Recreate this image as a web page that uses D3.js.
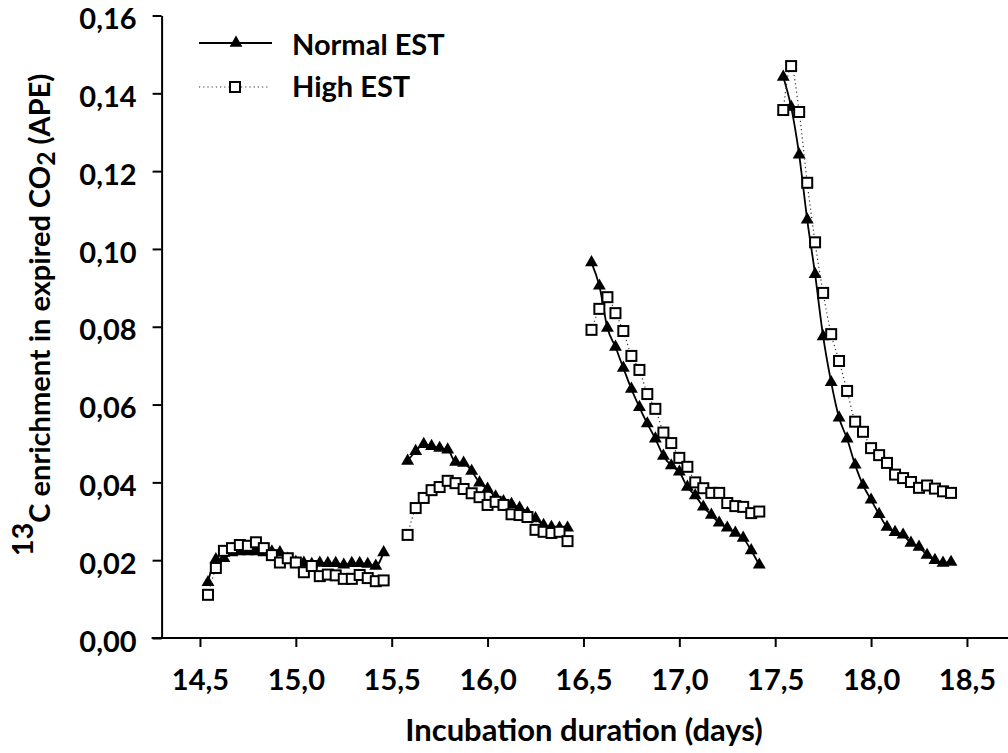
<!DOCTYPE html>
<html>
<head>
<meta charset="utf-8">
<script src="https://cdn.jsdelivr.net/npm/d3@7"></script>
<style>
  body { margin: 0; background: #fff; }
  svg { display: block; font-family: Lato, "Open Sans", sans-serif; font-weight: bold; }
</style>
</head>
<body>
<svg id="chart" width="1008" height="753"></svg>
<script>
// ---------- data ----------
const seriesNames = ["Normal EST", "High EST"];

const t1 = [14.542, 14.583, 14.625, 14.667, 14.708, 14.750, 14.792, 14.833, 14.875, 14.917, 14.958, 15.000, 15.042, 15.083, 15.125, 15.167, 15.208, 15.250, 15.292, 15.333, 15.375, 15.417, 15.458];
const t2 = [15.583, 15.625, 15.667, 15.708, 15.750, 15.792, 15.833, 15.875, 15.917, 15.958, 16.000, 16.042, 16.083, 16.125, 16.167, 16.208, 16.250, 16.292, 16.333, 16.375, 16.417];
const t3 = [16.542, 16.583, 16.625, 16.667, 16.708, 16.750, 16.792, 16.833, 16.875, 16.917, 16.958, 17.000, 17.042, 17.083, 17.125, 17.167, 17.208, 17.250, 17.292, 17.333, 17.375, 17.417];
const t4 = [17.542, 17.583, 17.625, 17.667, 17.708, 17.750, 17.792, 17.833, 17.875, 17.917, 17.958, 18.000, 18.042, 18.083, 18.125, 18.167, 18.208, 18.250, 18.292, 18.333, 18.375, 18.417];

const normal1 = [0.0143, 0.0202, 0.0205, 0.0220, 0.0222, 0.0222, 0.0222, 0.0220, 0.0222, 0.0220, 0.0203, 0.0195, 0.0193, 0.0190, 0.0193, 0.0192, 0.0192, 0.0188, 0.0192, 0.0192, 0.0190, 0.0185, 0.0220];
const normal2 = [0.0455, 0.0480, 0.0498, 0.0493, 0.0488, 0.0484, 0.0452, 0.0450, 0.0429, 0.0399, 0.0383, 0.0363, 0.0351, 0.0344, 0.0334, 0.0321, 0.0307, 0.0290, 0.0285, 0.0283, 0.0283];
const normal3 = [0.0965, 0.0905, 0.0797, 0.0748, 0.0694, 0.0640, 0.0593, 0.0551, 0.0512, 0.0468, 0.0443, 0.0427, 0.0388, 0.0366, 0.0337, 0.0316, 0.0296, 0.0283, 0.0270, 0.0257, 0.0225, 0.0188];
const normal4 = [0.1442, 0.1365, 0.1242, 0.1075, 0.0935, 0.0775, 0.0657, 0.0566, 0.0512, 0.0445, 0.0393, 0.0355, 0.0318, 0.0285, 0.0272, 0.0265, 0.0244, 0.0234, 0.0213, 0.0200, 0.0193, 0.0195];

const high1 = [0.0111, 0.0180, 0.0224, 0.0231, 0.0239, 0.0237, 0.0246, 0.0231, 0.0213, 0.0194, 0.0205, 0.0194, 0.0169, 0.0185, 0.0159, 0.0163, 0.0161, 0.0152, 0.0152, 0.0162, 0.0154, 0.0146, 0.0148];
const high2 = [0.0265, 0.0334, 0.0360, 0.0380, 0.0388, 0.0404, 0.0398, 0.0383, 0.0372, 0.0362, 0.0342, 0.0350, 0.0342, 0.0318, 0.0316, 0.0311, 0.0278, 0.0273, 0.0270, 0.0273, 0.0249];
const high3 = [0.0792, 0.0846, 0.0876, 0.0835, 0.0789, 0.0725, 0.0689, 0.0627, 0.0589, 0.0528, 0.0501, 0.0463, 0.0440, 0.0400, 0.0385, 0.0373, 0.0373, 0.0347, 0.0339, 0.0337, 0.0321, 0.0325];
const high4 = [0.1357, 0.1470, 0.1352, 0.1170, 0.1017, 0.0887, 0.0781, 0.0712, 0.0635, 0.0556, 0.0530, 0.0488, 0.0470, 0.0450, 0.0420, 0.0411, 0.0401, 0.0386, 0.0392, 0.0384, 0.0377, 0.0373];

const xTicks = [14.5, 15.0, 15.5, 16.0, 16.5, 17.0, 17.5, 18.0, 18.5];
const yTicks = [0, 0.02, 0.04, 0.06, 0.08, 0.10, 0.12, 0.14, 0.16];

const xTitle = "Incubation duration (days)";

// ---------- build ----------
const times = [t1, t2, t3, t4];
const normalSegs = [normal1, normal2, normal3, normal4].map((v, i) => v.map((y, j) => ({x: times[i][j], y})));
const highSegs = [high1, high2, high3, high4].map((v, i) => v.map((y, j) => ({x: times[i][j], y})));

const svg = d3.select("#chart");
const x = d3.scaleLinear().domain([14.3, 18.7]).range([161.6, 1005.3]);
const y = d3.scaleLinear().domain([0, 0.16]).range([638, 15.5]);

const loc = d3.formatLocale({decimal: ",", thousands: ".", grouping: [3], currency: ["", ""]});
const fx = loc.format(".1f");
const fy = loc.format(".2f");

const FS = 29;

// Y axis
const gy = svg.append("g").attr("transform", `translate(${x(14.3)},0)`)
  .call(d3.axisLeft(y).tickValues(yTicks).tickFormat(fy).tickSize(9).tickSizeOuter(0).tickPadding(16));
gy.select(".domain").attr("stroke", "#000").attr("stroke-width", 2);
gy.selectAll(".tick line").attr("stroke", "#000").attr("stroke-width", 2);
gy.selectAll(".tick text").attr("font-size", FS).attr("font-family", "Lato").attr("font-weight", "bold").attr("fill", "#000").attr("dy", "0.45em");

// X axis
const gx = svg.append("g").attr("transform", `translate(0,${y(0)})`)
  .call(d3.axisBottom(x).tickValues(xTicks).tickFormat(fx).tickSize(9).tickSizeOuter(0).tickPadding(22));
gx.select(".domain").remove();
gx.append("line").attr("x1", x(14.3) - 10).attr("x2", 1008).attr("y1", 0).attr("y2", 0).attr("stroke", "#000").attr("stroke-width", 2);
gx.selectAll(".tick line").attr("stroke", "#000").attr("stroke-width", 2);
gx.selectAll(".tick text").attr("font-size", FS).attr("font-family", "Lato").attr("font-weight", "bold").attr("fill", "#000");

// Axis titles
svg.append("text").attr("x", 584).attr("y", 741).attr("text-anchor", "middle")
  .attr("font-size", 31).attr("fill", "#000").text(xTitle);

const yt = svg.append("text").attr("transform", "translate(50,315) rotate(-90)")
  .attr("text-anchor", "middle").attr("font-size", FS).attr("fill", "#000");
yt.append("tspan").attr("dy", -17).text("13");
yt.append("tspan").attr("dy", 17).text("C enrichment in expired CO");
yt.append("tspan").attr("dy", 5).attr("font-size", FS * 0.85).text("2");
yt.append("tspan").attr("dy", -5).text(" (APE)");

// Lines
const line = d3.line().x(d => x(d.x)).y(d => y(d.y)).curve(d3.curveMonotoneX);
const tri = d3.symbol().type(d3.symbolTriangle).size(72);

const gN = svg.append("g");
normalSegs.forEach(seg => {
  gN.append("path").datum(seg).attr("d", line).attr("fill", "none").attr("stroke", "#000").attr("stroke-width", 1.8);
});
normalSegs.forEach(seg => {
  gN.selectAll(null).data(seg).enter().append("path")
    .attr("d", tri).attr("transform", d => `translate(${x(d.x)},${y(d.y)})`).attr("fill", "#000");
});

const gH = svg.append("g");
highSegs.forEach(seg => {
  gH.append("path").datum(seg).attr("d", line).attr("fill", "none").attr("stroke", "#333")
    .attr("stroke-width", 1.2).attr("stroke-dasharray", "1.2,3");
});
const SQ = 10;
highSegs.forEach(seg => {
  gH.selectAll(null).data(seg).enter().append("rect")
    .attr("x", d => x(d.x) - SQ / 2).attr("y", d => y(d.y) - SQ / 2)
    .attr("width", SQ).attr("height", SQ).attr("fill", "#fff").attr("stroke", "#000").attr("stroke-width", 2);
});

// Legend
const lg = svg.append("g");
lg.append("line").attr("x1", 199).attr("x2", 272).attr("y1", 43).attr("y2", 43).attr("stroke", "#000").attr("stroke-width", 1.8);
lg.append("path").attr("d", tri).attr("transform", "translate(236,43)").attr("fill", "#000");
lg.append("text").attr("x", 292).attr("y", 55).attr("font-size", FS).attr("fill", "#000").text(seriesNames[0]);
lg.append("line").attr("x1", 199).attr("x2", 268).attr("y1", 87).attr("y2", 87).attr("stroke", "#333")
  .attr("stroke-width", 1.2).attr("stroke-dasharray", "1.2,3");
lg.append("rect").attr("x", 235 - SQ / 2).attr("y", 87 - SQ / 2).attr("width", SQ).attr("height", SQ)
  .attr("fill", "#fff").attr("stroke", "#000").attr("stroke-width", 2);
lg.append("text").attr("x", 292).attr("y", 97).attr("font-size", FS).attr("fill", "#000").text(seriesNames[1]);
</script>
</body>
</html>
